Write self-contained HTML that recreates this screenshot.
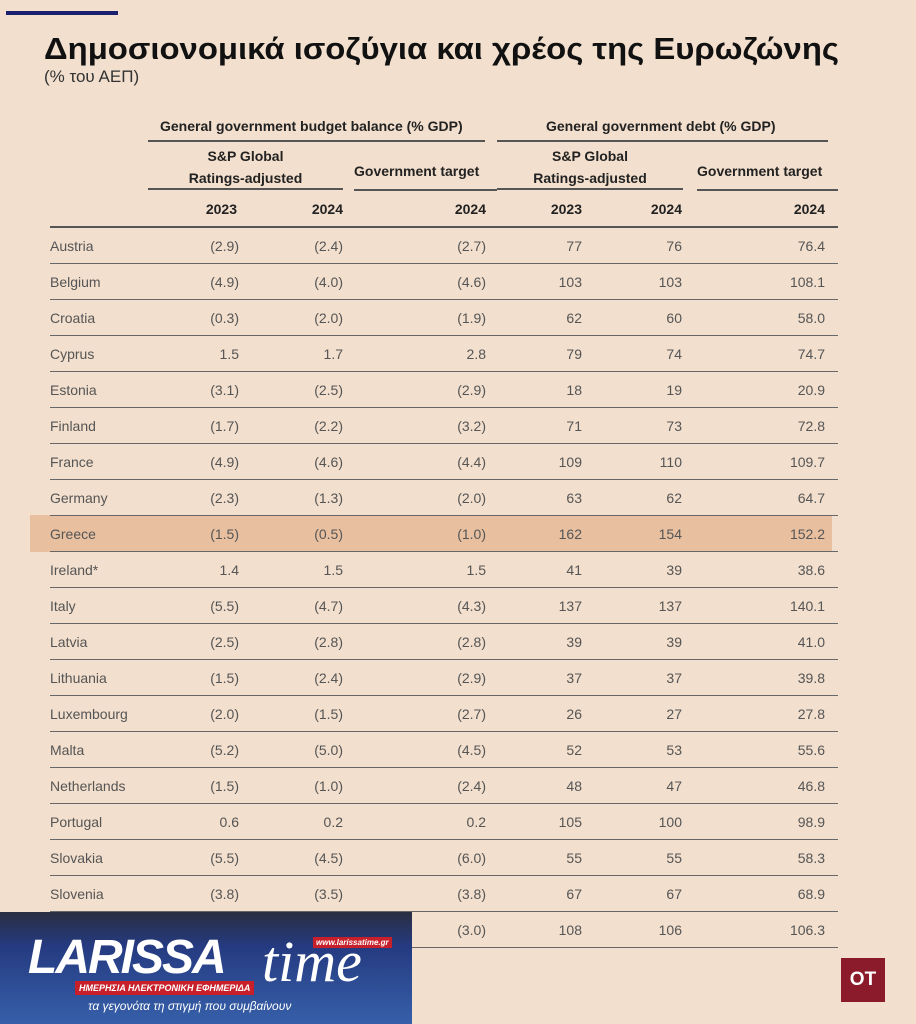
<!DOCTYPE html>
<html><head><meta charset="utf-8"><style>
*{margin:0;padding:0;box-sizing:border-box}
body{width:916px;height:1024px;background:#f2dfcd;position:relative;overflow:hidden;font-family:"Liberation Sans",sans-serif;color:#444}
.a{position:absolute;white-space:nowrap}
.l{position:absolute;height:1px;background:#555}
.h{font-weight:bold;color:#222;font-size:14px}
.r{text-align:right}
.row{position:absolute;left:0;width:916px;height:36px;font-size:14px;color:#555}
.row span{position:absolute;top:10px}
</style></head><body>
<div class="a" style="left:6px;top:11px;width:112px;height:4px;background:#1a1f6e"></div>
<div class="a" style="left:44px;top:31px;font-size:31px;font-weight:bold;color:#111;transform:scaleX(1.06);transform-origin:0 0">Δημοσιονομικά ισοζύγια και χρέος της Ευρωζώνης</div>
<div class="a" style="left:44px;top:67px;font-size:17px;color:#333">(% του ΑΕΠ)</div>

<div class="a h" style="left:160px;top:118px">General government budget balance (% GDP)</div>
<div class="a h" style="left:546px;top:118px">General government debt (% GDP)</div>
<div class="l" style="left:148px;top:140px;width:337px;height:2px"></div>
<div class="l" style="left:497px;top:140px;width:331px;height:2px"></div>
<div class="a h" style="left:148px;top:145px;width:195px;text-align:center;line-height:22px">S&amp;P Global<br>Ratings-adjusted</div>
<div class="a h" style="left:497px;top:145px;width:186px;text-align:center;line-height:22px">S&amp;P Global<br>Ratings-adjusted</div>
<div class="a h" style="left:354px;top:163px">Government target</div>
<div class="a h" style="left:697px;top:163px">Government target</div>
<div class="l" style="left:148px;top:188px;width:195px;height:2px"></div>
<div class="l" style="left:354px;top:189px;width:143px;height:2px"></div>
<div class="l" style="left:497px;top:188px;width:186px;height:2px"></div>
<div class="l" style="left:697px;top:189px;width:141px;height:2px"></div>
<div class="a h r" style="right:679px;top:201px">2023</div>
<div class="a h r" style="right:573px;top:201px">2024</div>
<div class="a h r" style="right:430px;top:201px">2024</div>
<div class="a h r" style="right:334px;top:201px">2023</div>
<div class="a h r" style="right:234px;top:201px">2024</div>
<div class="a h r" style="right:91px;top:201px">2024</div>
<div class="l" style="left:50px;top:226px;width:788px;height:2px"></div>

<div class="a" style="left:30px;top:515px;width:802px;height:37px;background:#e8c0a0"></div>
<div id="rows"></div>

<div class="a" style="left:0;top:912px;width:412px;height:112px;background:linear-gradient(#2a2e40 0%,#253a80 30%,#3660aa 100%)"></div>
<div class="a" style="left:28px;top:930px;font-size:48px;font-weight:bold;font-style:italic;color:#fff;letter-spacing:-2px">LARISSA</div>
<div class="a" style="left:262px;top:928px;font-size:58px;font-style:italic;color:#fff;font-family:'Liberation Serif',serif">time</div>
<div class="a" style="left:313px;top:937px;background:#c8202a;color:#fff;font-size:8px;font-weight:bold;font-style:italic;padding:1px 3px">www.larissatime.gr</div>
<div class="a" style="left:75px;top:981px;background:#c8202a;color:#fff;font-size:9px;font-weight:bold;font-style:italic;padding:2px 4px">ΗΜΕΡΗΣΙΑ ΗΛΕΚΤΡΟΝΙΚΗ ΕΦΗΜΕΡΙΔΑ</div>
<div class="a" style="left:88px;top:999px;color:#fff;font-size:12px;font-style:italic">τα γεγονότα τη στιγμή που συμβαίνουν</div>
<div class="a" style="left:841px;top:958px;width:44px;height:44px;background:#8b1a2a;color:#fff;font-weight:bold;font-size:19px;text-align:center;line-height:44px">OT</div>
<script>
var d=[["Austria","(2.9)","(2.4)","(2.7)","77","76","76.4"],["Belgium","(4.9)","(4.0)","(4.6)","103","103","108.1"],["Croatia","(0.3)","(2.0)","(1.9)","62","60","58.0"],["Cyprus","1.5","1.7","2.8","79","74","74.7"],["Estonia","(3.1)","(2.5)","(2.9)","18","19","20.9"],["Finland","(1.7)","(2.2)","(3.2)","71","73","72.8"],["France","(4.9)","(4.6)","(4.4)","109","110","109.7"],["Germany","(2.3)","(1.3)","(2.0)","63","62","64.7"],["Greece","(1.5)","(0.5)","(1.0)","162","154","152.2"],["Ireland*","1.4","1.5","1.5","41","39","38.6"],["Italy","(5.5)","(4.7)","(4.3)","137","137","140.1"],["Latvia","(2.5)","(2.8)","(2.8)","39","39","41.0"],["Lithuania","(1.5)","(2.4)","(2.9)","37","37","39.8"],["Luxembourg","(2.0)","(1.5)","(2.7)","26","27","27.8"],["Malta","(5.2)","(5.0)","(4.5)","52","53","55.6"],["Netherlands","(1.5)","(1.0)","(2.4)","48","47","46.8"],["Portugal","0.6","0.2","0.2","105","100","98.9"],["Slovakia","(5.5)","(4.5)","(6.0)","55","55","58.3"],["Slovenia","(3.8)","(3.5)","(3.8)","67","67","68.9"],["","","","(3.0)","108","106","106.3"]];
var R=[677,573,430,334,234,91],h="";
d.forEach(function(r,i){var t=228+i*36;h+='<div class="row" style="top:'+t+'px"><span style="left:50px">'+r[0]+'</span>';for(var j=1;j<7;j++)h+='<span style="right:'+R[j-1]+'px">'+r[j]+'</span>';h+='</div><div class="l" style="left:50px;top:'+(t+35)+'px;width:788px;background:#666"></div>';});
document.getElementById("rows").innerHTML=h;
</script>
</body></html>
